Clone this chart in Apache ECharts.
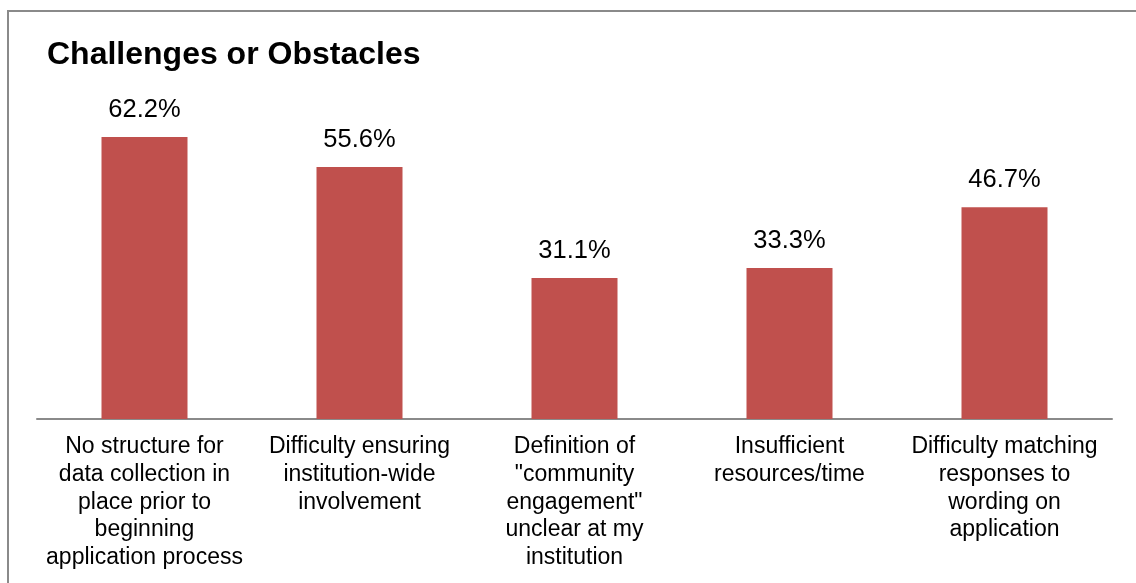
<!DOCTYPE html>
<html>
<head>
<meta charset="utf-8">
<script src="https://cdn.jsdelivr.net/npm/echarts@6/dist/echarts.min.js"></script>
<style>
  html, body { margin: 0; padding: 0; background: #ffffff; }
  #chart { width: 1136px; height: 583px; }
</style>
</head>
<body>
<div id="chart"></div>
<script>
// Survey responses: share of respondents reporting each challenge
const categories = [
  'No structure for\ndata collection in\nplace prior to\nbeginning\napplication process',
  'Difficulty ensuring\ninstitution-wide\ninvolvement',
  'Definition of\n"community\nengagement"\nunclear at my\ninstitution',
  'Insufficient\nresources/time',
  'Difficulty matching\nresponses to\nwording on\napplication'
];
const percentages = [62.2, 55.6, 31.1, 33.3, 46.7];

const FONT = '"Liberation Sans", Arial, sans-serif';

const chart = echarts.init(document.getElementById('chart'), null, { renderer: 'canvas' });

chart.setOption({
  backgroundColor: '#ffffff',
  animation: false,
  title: {
    text: 'Challenges or Obstacles',
    left: 42,
    top: 34,
    textStyle: {
      fontFamily: FONT,
      fontWeight: 'bold',
      fontSize: 32,
      color: '#000000'
    }
  },
  graphic: [{
    type: 'rect',
    shape: { x: 8, y: 11, width: 1200, height: 700 },
    style: { fill: 'none', stroke: '#8a8a8a', lineWidth: 2 },
    silent: true,
    z: -1
  }],
  grid: {
    left: 37,
    right: 24,
    top: 101.6,
    bottom: 164,
    containLabel: false
  },
  xAxis: {
    type: 'category',
    data: categories,
    axisLine: { show: true, lineStyle: { color: '#8a8a8a', width: 2 } },
    axisTick: { show: false },
    axisLabel: {
      interval: 0,
      margin: 14,
      fontFamily: FONT,
      fontSize: 23,
      lineHeight: 27.7,
      color: '#000000',
      align: 'center',
      verticalAlign: 'top'
    }
  },
  yAxis: {
    type: 'value',
    min: 0,
    max: 70,
    show: false,
    splitLine: { show: false }
  },
  series: [{
    type: 'bar',
    data: percentages,
    barWidth: '40%',
    itemStyle: { color: '#C0504D' },
    label: {
      show: true,
      position: 'top',
      distance: 14,
      formatter: p => p.value.toFixed(1) + '%',
      fontFamily: FONT,
      fontSize: 25.5,
      color: '#000000'
    }
  }]
});
</script>
</body>
</html>
